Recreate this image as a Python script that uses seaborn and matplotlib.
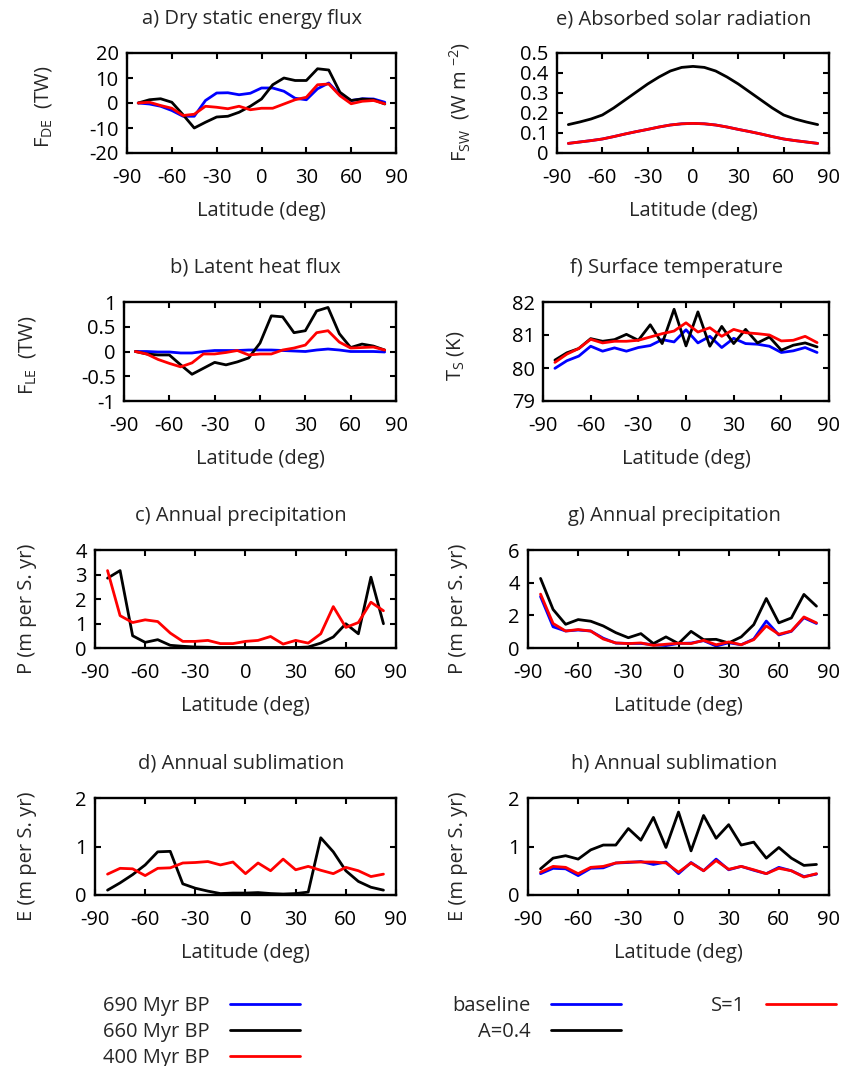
import numpy as np
import matplotlib
matplotlib.use("Agg")
import matplotlib.pyplot as plt
from matplotlib.lines import Line2D
from matplotlib.ticker import FuncFormatter
import seaborn as sns

# ---------------------------------------------------------------- data
lat = [-82.5, -75, -67.5, -60, -52.5, -45, -37.5, -30, -22.5, -15, -7.5, 0,
       7.5, 15, 22.5, 30, 37.5, 45, 52.5, 60, 67.5, 75, 82.5]

# a) dry static energy flux (TW)
fde_690 = [0, -0.4, -1.3, -3.0, -5.3, -5.3, 1.0, 4.0, 4.1, 3.3, 3.9, 6.0,
           6.0, 4.7, 1.9, 1.3, 5.7, 8.0, 3.3, 1.0, 1.7, 1.6, 0.3]
fde_660 = [0, 1.3, 1.7, 0.3, -4.7, -10.0, -7.7, -5.6, -5.3, -3.7, -1.3, 1.6,
           7.3, 10.0, 9.0, 9.0, 13.7, 13.2, 4.3, 1.0, 1.6, 1.3, -0.4]
fde_400 = [0, 0.3, -1.0, -2.1, -5.0, -4.5, -1.3, -1.7, -2.3, -1.3, -2.7, -2.1,
           -2.1, -0.4, 1.3, 2.3, 7.3, 7.6, 2.9, -0.3, 0.7, 1.0, -0.3]

# b) latent heat flux (TW)
fle_690 = [0, 0, -0.01, -0.01, -0.03, -0.03, 0.0, 0.02, 0.02, 0.02, 0.03, 0.03,
           0.03, 0.02, 0.01, 0.0, 0.03, 0.05, 0.03, 0.0, 0.0, 0.0, -0.01]
fle_660 = [0, -0.05, -0.07, -0.07, -0.27, -0.46, -0.34, -0.22, -0.27, -0.21, -0.13, 0.17,
           0.72, 0.70, 0.38, 0.42, 0.82, 0.89, 0.36, 0.08, 0.15, 0.11, 0.03]
fle_400 = [0, -0.05, -0.16, -0.24, -0.31, -0.23, -0.05, -0.05, -0.02, 0.02, -0.07, -0.05,
           -0.05, 0.03, 0.07, 0.13, 0.38, 0.42, 0.19, 0.07, 0.08, 0.09, 0.03]

# c) annual precipitation, paleo runs (m per S. yr)
pc_690 = [0.0] * 23
pc_660 = [2.85, 3.16, 0.5, 0.23, 0.34, 0.11, 0.07, 0.04, 0.03, 0.02, 0.02, 0.02,
          0.02, 0.02, 0.02, 0.02, 0.04, 0.2, 0.45, 0.99, 0.58, 2.89, 0.99]
pc_400 = [3.16, 1.32, 1.04, 1.15, 1.08, 0.61, 0.27, 0.27, 0.31, 0.18, 0.18, 0.27,
          0.31, 0.47, 0.16, 0.31, 0.2, 0.58, 1.69, 0.84, 1.04, 1.87, 1.52]

# d) annual sublimation, paleo runs (m per S. yr)
ed_690 = [0.0] * 23
ed_660 = [0.1, 0.25, 0.42, 0.62, 0.89, 0.9, 0.23, 0.14, 0.08, 0.03, 0.04, 0.04,
          0.05, 0.03, 0.02, 0.03, 0.06, 1.18, 0.89, 0.5, 0.28, 0.16, 0.1]
ed_400 = [0.43, 0.55, 0.54, 0.4, 0.55, 0.56, 0.66, 0.67, 0.69, 0.62, 0.68, 0.44,
          0.66, 0.5, 0.74, 0.52, 0.59, 0.51, 0.44, 0.57, 0.5, 0.38, 0.43]

# e) absorbed solar radiation (W m^-2)
fsw_base = [0.048, 0.055, 0.062, 0.07, 0.082, 0.095, 0.107, 0.118, 0.13, 0.14, 0.146, 0.148,
            0.146, 0.14, 0.13, 0.118, 0.107, 0.095, 0.082, 0.07, 0.062, 0.055, 0.048]
fsw_a04 = [0.142, 0.155, 0.17, 0.19, 0.225, 0.265, 0.305, 0.345, 0.38, 0.41, 0.428, 0.433,
           0.428, 0.41, 0.38, 0.345, 0.305, 0.265, 0.225, 0.19, 0.17, 0.155, 0.142]
fsw_s1 = [0.048, 0.055, 0.062, 0.07, 0.082, 0.095, 0.107, 0.118, 0.13, 0.14, 0.146, 0.148,
          0.146, 0.14, 0.13, 0.118, 0.107, 0.095, 0.082, 0.07, 0.062, 0.055, 0.048]

# f) surface temperature (K)
ts_base = [79.99, 80.22, 80.36, 80.66, 80.51, 80.61, 80.51, 80.62, 80.68, 80.86, 80.79, 81.16,
           80.76, 80.96, 80.62, 80.9, 80.74, 80.72, 80.66, 80.47, 80.52, 80.62, 80.47]
ts_a04 = [80.24, 80.46, 80.59, 80.89, 80.81, 80.86, 81.02, 80.84, 81.31, 80.74, 81.78, 80.67,
          81.7, 80.66, 81.26, 80.74, 81.17, 80.76, 80.94, 80.54, 80.69, 80.76, 80.64]
ts_s1 = [80.17, 80.42, 80.59, 80.87, 80.76, 80.81, 80.81, 80.84, 80.94, 81.04, 81.12, 81.37,
         81.09, 81.22, 80.96, 81.17, 81.07, 81.04, 81.0, 80.82, 80.84, 80.96, 80.77]

# g) annual precipitation, sensitivity runs (m per S. yr)
pg_base = [3.15, 1.3, 1.04, 1.1, 1.04, 0.6, 0.3, 0.28, 0.28, 0.2, 0.15, 0.28,
           0.3, 0.45, 0.12, 0.32, 0.2, 0.55, 1.65, 0.8, 1.02, 1.85, 1.5]
pg_a04 = [4.26, 2.36, 1.45, 1.74, 1.64, 1.35, 0.94, 0.63, 0.88, 0.27, 0.68, 0.27,
          1.02, 0.51, 0.53, 0.31, 0.68, 1.43, 3.03, 1.54, 1.84, 3.28, 2.56]
pg_s1 = [3.3, 1.5, 1.04, 1.13, 1.04, 0.55, 0.31, 0.27, 0.31, 0.16, 0.23, 0.29,
         0.27, 0.47, 0.2, 0.37, 0.2, 0.51, 1.35, 0.84, 1.04, 1.9, 1.54]

# h) annual sublimation, sensitivity runs (m per S. yr)
eh_base = [0.44, 0.55, 0.54, 0.4, 0.55, 0.56, 0.66, 0.67, 0.69, 0.63, 0.68, 0.44,
           0.67, 0.5, 0.74, 0.52, 0.59, 0.51, 0.44, 0.57, 0.5, 0.38, 0.43]
eh_a04 = [0.54, 0.76, 0.81, 0.74, 0.93, 1.03, 1.03, 1.37, 1.13, 1.6, 0.98, 1.71,
          0.91, 1.64, 1.17, 1.45, 1.03, 1.09, 0.76, 0.98, 0.76, 0.61, 0.63]
eh_s1 = [0.47, 0.59, 0.57, 0.44, 0.57, 0.59, 0.66, 0.68, 0.68, 0.68, 0.66, 0.47,
         0.66, 0.5, 0.71, 0.53, 0.59, 0.52, 0.44, 0.55, 0.5, 0.37, 0.44]

paleo_labels = ["690 Myr BP", "660 Myr BP", "400 Myr BP"]
sens_labels = ["baseline", "A=0.4", "S=1"]
series_colors = ["#0000ff", "#000000", "#ff0000"]

xticks = [-90, -60, -30, 0, 30, 60, 90]

# ---------------------------------------------------------------- style
sns.set_style("ticks")
plt.rcParams["font.family"] = ["Open Sans", "DejaVu Sans"]
plt.rcParams["mathtext.fontset"] = "custom"
plt.rcParams["mathtext.rm"] = "Open Sans"
plt.rcParams["mathtext.it"] = "Open Sans:italic"
plt.rcParams["axes.unicode_minus"] = False

W, H = 851, 1066
FS = 14.5
LW = 2.0
fig = plt.figure(figsize=(W / 100, H / 100), dpi=100)


def add_panel(box, title, title_x, ylabel, ylab_xy, ylim, yticks, series):
    left, right, top, bottom = box
    ax = fig.add_axes([left / W, 1 - bottom / H, (right - left) / W, (bottom - top) / H])
    for vals, col in zip(series, series_colors):
        sns.lineplot(x=lat, y=vals, color=col, lw=LW, ax=ax, legend=False)
    ax.set_xlim(-90, 90)
    ax.set_ylim(*ylim)
    ax.set_xticks(xticks)
    ax.set_yticks(yticks)
    ax.yaxis.set_major_formatter(FuncFormatter(lambda v, p: f"{v:g}"))
    ax.xaxis.set_major_formatter(FuncFormatter(lambda v, p: f"{v:g}"))
    ax.tick_params(axis="both", direction="in", length=4.5, width=1.5,
                   top=True, right=True, labelsize=FS, colors="black")
    ax.tick_params(axis="x", pad=11)
    ax.tick_params(axis="y", pad=6)
    for sp in ax.spines.values():
        sp.set_linewidth(1.7)
        sp.set_color("black")
    ax.set_xlabel("Latitude (deg)", fontsize=FS, labelpad=9)
    ax.set_ylabel(ylabel, fontsize=FS, va="center")
    lx, ly = ylab_xy
    ax.yaxis.set_label_coords((lx - left) / (right - left), (bottom - ly) / (bottom - top))
    fig.text(title_x / W, 1 - (top - 34) / H, title, fontsize=FS, ha="center", va="center")
    return ax


add_panel((127, 396, 53, 153), "a) Dry static energy flux", 252,
          "F$_{\\mathrm{DE}}$  (TW)", (43, 107), (-20, 20), [-20, -10, 0, 10, 20],
          [fde_690, fde_660, fde_400])
add_panel((124, 396, 302, 401), "b) Latent heat flux", 255,
          "F$_{\\mathrm{LE}}$  (TW)", (27, 355), (-1, 1), [-1, -0.5, 0, 0.5, 1],
          [fle_690, fle_660, fle_400])
add_panel((95, 396, 550, 648), "c) Annual precipitation", 241,
          "P (m per S. yr)", (27, 609), (0, 4), [0, 1, 2, 3, 4],
          [pc_690, pc_660, pc_400])
add_panel((95, 396, 798, 895), "d) Annual sublimation", 241,
          "E (m per S. yr)", (27, 856), (0, 2), [0, 1, 2],
          [ed_690, ed_660, ed_400])
add_panel((557, 829, 53, 153), "e) Absorbed solar radiation", 684,
          "F$_{\\mathrm{SW}}$  (W m $^{\\mathrm{-2}}$)", (460, 102), (0, 0.5),
          [0, 0.1, 0.2, 0.3, 0.4, 0.5], [fsw_base, fsw_a04, fsw_s1])
add_panel((543, 829, 302, 401), "f) Surface temperature", 677,
          "T$_{\\mathrm{S}}$ (K)", (456, 356), (79, 82), [79, 80, 81, 82],
          [ts_base, ts_a04, ts_s1])
add_panel((528, 829, 550, 648), "g) Annual precipitation", 674,
          "P (m per S. yr)", (458, 609), (0, 6), [0, 2, 4, 6],
          [pg_base, pg_a04, pg_s1])
add_panel((528, 829, 798, 895), "h) Annual sublimation", 674,
          "E (m per S. yr)", (458, 856), (0, 2), [0, 1, 2],
          [eh_base, eh_a04, eh_s1])

# ---------------------------------------------------------------- legends


def key_block(labels, colors, right_px, top_px):
    handles = [Line2D([], [], color=c, lw=LW) for c in colors]
    fig.legend(handles=handles, labels=labels, loc="upper right",
               bbox_to_anchor=(right_px / W, 1 - top_px / H),
               frameon=False, markerfirst=False, fontsize=FS,
               handlelength=3.5, handletextpad=1.0, labelspacing=0.3,
               borderaxespad=0, borderpad=0)


key_block(paleo_labels, series_colors, 300, 996)
key_block(sens_labels[:2], series_colors[:2], 621, 996)
key_block(sens_labels[2:], series_colors[2:], 836, 996)

fig.savefig("out.png", dpi=100, facecolor="white")
